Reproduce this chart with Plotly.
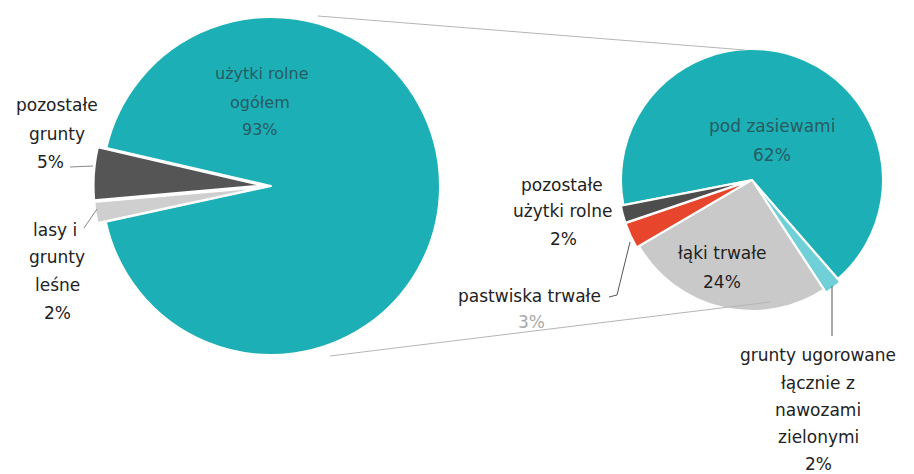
import plotly.graph_objects as go

# ---- data ----
main_labels = ["użytki rolne ogółem", "lasy i grunty leśne", "pozostałe grunty"]
main_values = [93, 2, 5]
sub_labels = ["pod zasiewami", "grunty ugorowane łącznie z nawozami zielonymi",
              "łąki trwałe", "pastwiska trwałe", "pozostałe użytki rolne"]
sub_values = [62, 2, 24, 3, 2]

main_colors = ["#1cb0b6", "#cfcfcf", "#555555"]
sub_colors = ["#1cb0b6", "#6fd0d8", "#c9c9c9", "#e8462c", "#4d4d4d"]

W, H = 914, 474
OFF = 8  # page body margin
FONT = "DejaVu Sans"


def px(x):
    return (x - OFF) / W


def py(y):
    return 1 - (y - OFF) / H


def clamp(v):
    return min(1.0, max(0.0, v))


def dom(cx, cy, r, pull):
    half = r * (1 + pull)
    return dict(x=[clamp(px(cx - half)), clamp(px(cx + half))],
                y=[clamp(py(cy + half)), clamp(py(cy - half))])


fig = go.Figure()

fig.add_trace(go.Pie(
    labels=main_labels, values=main_values, sort=False, direction="clockwise",
    rotation=-77, marker=dict(colors=main_colors, line=dict(color="white", width=2)),
    pull=[0, 0.05, 0.05], textinfo="none", hoverinfo="label+percent",
    domain=dom(271, 186, 169, 0.05), showlegend=False,
))

fig.add_trace(go.Pie(
    labels=sub_labels, values=sub_values, sort=False, direction="clockwise",
    rotation=-101, marker=dict(colors=sub_colors, line=dict(color="white", width=2)),
    pull=[0, 0.03, 0, 0.02, 0.02], textinfo="none", hoverinfo="label+value",
    domain=dom(752, 180, 131, 0.03), showlegend=False,
))


def seg(x0, y0, x1, y1, color, width=1):
    return dict(type="line", xref="paper", yref="paper", x0=px(x0), y0=py(y0), x1=px(x1), y1=py(y1),
                line=dict(color=color, width=width))


shapes = [
    seg(318, 16, 745, 50, "#b5b5b5"),
    seg(330, 356, 770, 302, "#b5b5b5"),
    seg(70, 167, 93, 166, "#888888"),
    seg(97, 209, 84, 228, "#888888"),
    seg(609, 297, 617, 295, "#555555"),
    seg(617, 295, 630, 242, "#555555"),
    seg(832, 286, 832, 336, "#555555"),
]

dark = "#222222"
inpie = "#275b62"
FS = 17


def ann(x, y, text, color=dark, size=FS):
    return dict(x=px(x), y=py(y), xref="paper", yref="paper", text=text, showarrow=False,
                xanchor="center", yanchor="middle", font=dict(family=FONT, size=size, color=color))


def pct(v):
    return f"{v}%"


annotations = [
    ann(262, 73, "użytki rolne", inpie, 16), ann(260, 102, "ogółem", inpie, 16),
    ann(260, 130, pct(main_values[0]), inpie, 16),
    ann(57, 105, "pozostałe"), ann(57, 134, "grunty"), ann(50, 162, pct(main_values[2])),
    ann(55, 230, "lasy i"), ann(57, 257, "grunty"), ann(57, 285, "leśne"), ann(57, 313, pct(main_values[1])),
    ann(772, 126, sub_labels[0], inpie), ann(772, 155, pct(sub_values[0]), inpie),
    ann(562, 185, "pozostałe"), ann(562, 211, "użytki rolne"), ann(563, 239, pct(sub_values[4])),
    ann(529, 296, sub_labels[3]), ann(531, 322, pct(sub_values[3]), "#a8a8a8"),
    ann(722, 253, sub_labels[2]), ann(722, 282, pct(sub_values[2])),
    ann(818, 355, "grunty ugorowane"), ann(818, 383, "łącznie z"), ann(818, 410, "nawozami"),
    ann(818, 437, "zielonymi"), ann(818, 464, pct(sub_values[1])),
]

fig.update_layout(
    width=W, height=H, margin=dict(l=0, r=0, t=0, b=0),
    paper_bgcolor="white", plot_bgcolor="white",
    shapes=shapes, annotations=annotations,
    font=dict(family=FONT),
)

fig.write_html("out.html")
